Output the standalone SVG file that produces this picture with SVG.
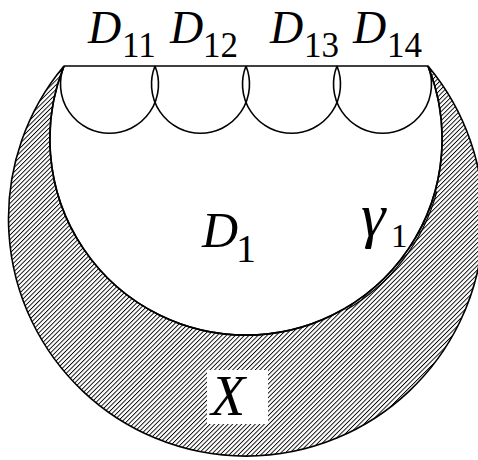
<svg xmlns="http://www.w3.org/2000/svg" width="478" height="460" viewBox="0 0 478 460">
<style>
.ln{fill:none;stroke:#000;stroke-width:1.6}
</style>
<defs>
<pattern id="hatch" width="3.2" height="3.2" patternUnits="userSpaceOnUse" patternTransform="rotate(45)">
<rect x="0" y="0" width="0.9" height="3.2" fill="#000"/>
</pattern>
</defs>
<rect width="478" height="460" fill="#fff"/>
<g id="X-region">
<path d="M64,66 A237.5,237.5 0 1 0 428,66 A196.1,196.1 0 1 1 64,66 Z" fill="url(#hatch)" stroke="#000" stroke-width="1.6"/>
</g>
<g id="D1">
<path class="ln" d="M64,66 A196.1,196.1 0 1 0 428,66"/>
</g>
<g id="gamma1">
<path fill="none" stroke="#000" stroke-width="1.2" d="M436.9,191.3 A196.1,196.1 0 0 1 345.5,310.3"/>
</g>
<g id="top-line">
<line class="ln" x1="64" y1="66" x2="428" y2="66"/>
</g>
<g id="D11"><path class="ln" d="M64,66 A49,49 0 1 0 155,66"/></g>
<g id="D12"><path class="ln" d="M155,66 A49,49 0 1 0 246,66"/></g>
<g id="D13"><path class="ln" d="M246,66 A49,49 0 1 0 337,66"/></g>
<g id="D14"><path class="ln" d="M337,66 A49,49 0 1 0 428,66"/></g>
<g id="labels" fill="#000">
<text font-family="'Liberation Serif'" font-style="italic" x="88" y="43" font-size="46">D</text><text font-family="'Liberation Serif'" x="122" y="57" font-size="35">11</text>
<text font-family="'Liberation Serif'" font-style="italic" x="170" y="43" font-size="46">D</text><text font-family="'Liberation Serif'" x="203" y="57" font-size="35">12</text>
<text font-family="'Liberation Serif'" font-style="italic" x="270" y="43" font-size="46">D</text><text font-family="'Liberation Serif'" x="304" y="57" font-size="35">13</text>
<text font-family="'Liberation Serif'" font-style="italic" x="353" y="43" font-size="46">D</text><text font-family="'Liberation Serif'" x="387" y="57" font-size="35">14</text>
<text font-family="'Liberation Serif'" font-style="italic" x="202" y="247" font-size="50">D</text><text font-family="'Liberation Serif'" x="236" y="262" font-size="40">1</text>
<text font-family="'Liberation Serif'" font-style="italic" x="361" y="236" font-size="62">γ</text><text font-family="'Liberation Serif'" x="391" y="247" font-size="33">1</text>
</g>
<g id="X">
<rect x="207" y="370" width="61" height="54" fill="#fff"/>
<text font-family="'Liberation Serif'" font-style="italic" x="211" y="415" font-size="56">X</text>
</g>
</svg>
